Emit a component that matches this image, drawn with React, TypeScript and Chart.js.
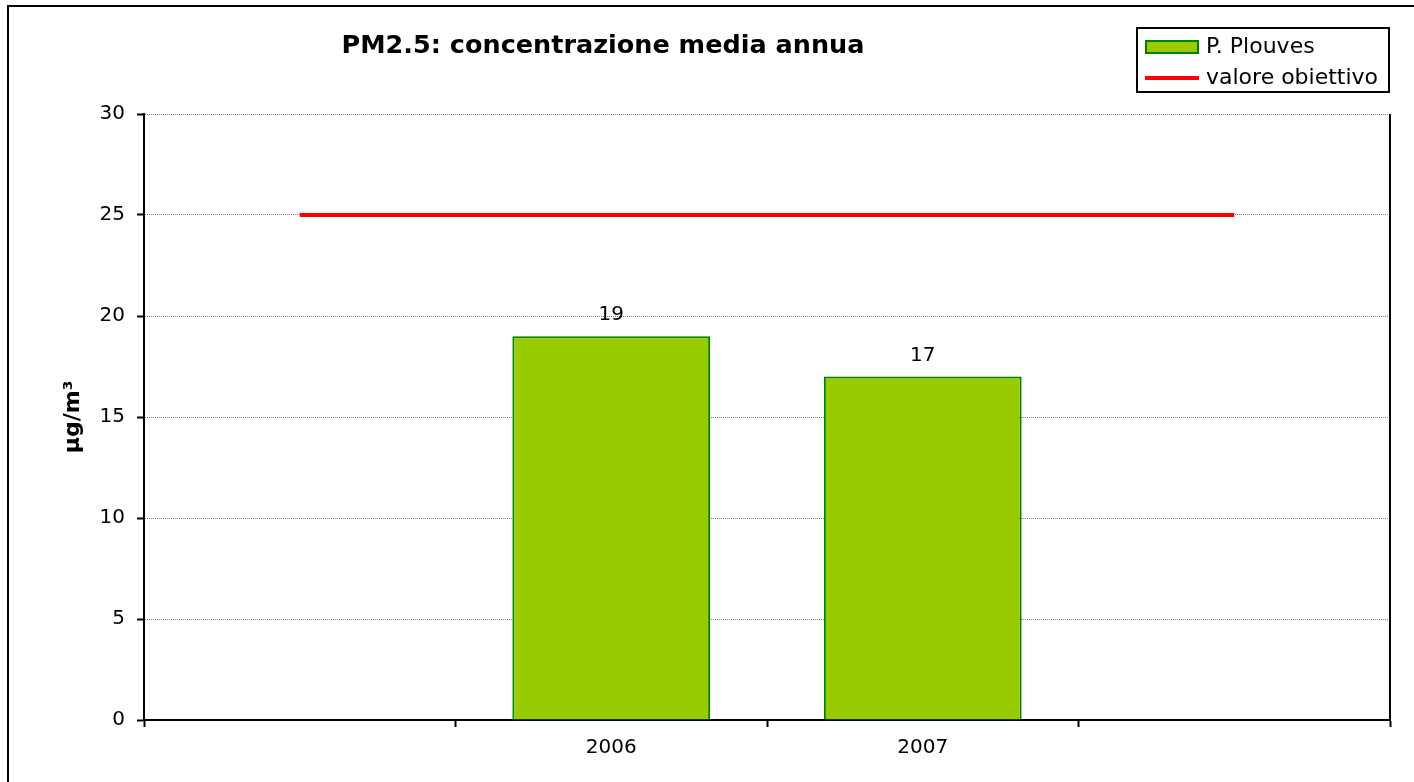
import React, { useEffect, useRef } from "react";
import { Chart, registerables } from "chart.js";

Chart.register(...registerables);

const categories = ["", "2006", "2007", ""];
const pm25Values: (number | null)[] = [null, 19, 17, null];
const targetValues = [25, 25, 25, 25];
const yMin = 0;
const yMax = 30;
const yStep = 5;
const chartTitle = "PM2.5: concentrazione media annua";
const yAxisTitle = "µg/m³";
const barSeriesLabel = "P. Plouves";
const lineSeriesLabel = "valore obiettivo";

const FONT = "'DejaVu Sans', Verdana, sans-serif";
const BAR_FILL = "#99CC00";
const BAR_EDGE = "#008000";
const LINE_COLOR = "#FF0000";

const decorPlugin = {
  id: "decor",
  beforeDraw(chart: any) {
    const ctx = chart.ctx;
    ctx.save();
    ctx.fillStyle = "#fff";
    ctx.fillRect(0, 0, chart.width, chart.height);
    ctx.restore();
  },
  afterDraw(chart: any) {
    const ctx = chart.ctx as CanvasRenderingContext2D;
    const a = chart.chartArea;
    ctx.save();
    // outer frame
    ctx.strokeStyle = "#000";
    ctx.lineWidth = 2;
    ctx.strokeRect(8, 6, 1600, 1000);
    // right edge of plot area
    ctx.beginPath();
    ctx.moveTo(a.right, a.top);
    ctx.lineTo(a.right, a.bottom);
    ctx.stroke();

    // title
    ctx.fillStyle = "#000";
    ctx.textAlign = "center";
    ctx.textBaseline = "middle";
    ctx.font = `bold 25.5px ${FONT}`;
    ctx.fillText(chartTitle, 603, 46);

    // y axis title
    ctx.save();
    ctx.translate(73, 417);
    ctx.rotate(-Math.PI / 2);
    ctx.font = `bold 22px ${FONT}`;
    ctx.fillText(yAxisTitle, 0, 0);
    ctx.restore();

    // data labels
    ctx.font = `20px ${FONT}`;
    const meta = chart.getDatasetMeta(0);
    const data = chart.data.datasets[0].data;
    meta.data.forEach((el: any, i: number) => {
      const v = data[i];
      if (v == null) return;
      ctx.fillText(String(v), el.x, el.y - 21);
    });

    // legend
    ctx.lineWidth = 2;
    ctx.strokeStyle = "#000";
    ctx.strokeRect(1137, 28, 252, 64);
    const ds0 = chart.data.datasets[0];
    const ds1 = chart.data.datasets[1];
    ctx.fillStyle = ds0.backgroundColor;
    ctx.fillRect(1146, 41, 52, 12);
    ctx.strokeStyle = ds0.borderColor;
    ctx.lineWidth = 2;
    ctx.strokeRect(1146, 41, 52, 12);
    ctx.strokeStyle = ds1.borderColor;
    ctx.lineWidth = 4;
    ctx.beginPath();
    ctx.moveTo(1145, 78);
    ctx.lineTo(1199, 78);
    ctx.stroke();
    ctx.fillStyle = "#000";
    ctx.textAlign = "left";
    ctx.font = `22px ${FONT}`;
    ctx.fillText(ds0.label, 1206, 47);
    ctx.fillText(ds1.label, 1206, 78);
    ctx.restore();
  },
};

export default function App() {
  const ref = useRef<HTMLCanvasElement>(null);
  useEffect(() => {
    if (!ref.current) return;
    const chart = new Chart(ref.current, {
      type: "bar",
      data: {
        labels: categories,
        datasets: [
          {
            type: "bar",
            label: barSeriesLabel,
            data: pm25Values,
            backgroundColor: BAR_FILL,
            borderColor: BAR_EDGE,
            borderWidth: 2,
            barPercentage: 0.635,
            categoryPercentage: 1,
          } as any,
          {
            type: "line",
            label: lineSeriesLabel,
            data: targetValues,
            borderColor: LINE_COLOR,
            backgroundColor: LINE_COLOR,
            borderWidth: 4,
            pointRadius: 0,
            fill: false,
          } as any,
        ],
      },
      options: {
        animation: false,
        responsive: false,
        devicePixelRatio: 1,
        layout: { padding: { top: 114, right: 24, bottom: 0, left: 0 } },
        plugins: {
          legend: { display: false },
          title: { display: false },
          tooltip: { enabled: false },
        },
        scales: {
          x: {
            type: "category",
            offset: true,
            grid: {
              display: true,
              drawOnChartArea: false,
              drawTicks: true,
              tickLength: 7,
              tickColor: "#000",
              tickWidth: 2,
              offset: true,
            },
            border: { display: true, color: "#000", width: 2 },
            ticks: {
              font: { family: FONT, size: 20 },
              color: "#000",
              padding: 9,
              maxRotation: 0,
              autoSkip: false,
            },
            afterFit: (s: any) => {
              s.height = 62;
            },
          },
          y: {
            min: yMin,
            max: yMax,
            ticks: {
              stepSize: yStep,
              font: { family: FONT, size: 20 },
              color: "#000",
              padding: 12,
            },
            grid: {
              color: (c: any) =>
                c.tick && c.tick.value === yMin ? "rgba(0,0,0,0)" : "#808080",
              lineWidth: 1,
              tickLength: 7,
              tickColor: "#000",
              tickWidth: 2,
            },
            border: { display: true, color: "#000", width: 2, dash: [1, 1] },
            afterFit: (s: any) => {
              s.width = 144;
            },
          },
        },
      } as any,
      plugins: [decorPlugin],
    });
    return () => chart.destroy();
  }, []);
  return (
    <canvas
      ref={ref}
      width={1414}
      height={782}
      style={{ position: "fixed", left: 0, top: 0, display: "block" }}
    />
  );
}
